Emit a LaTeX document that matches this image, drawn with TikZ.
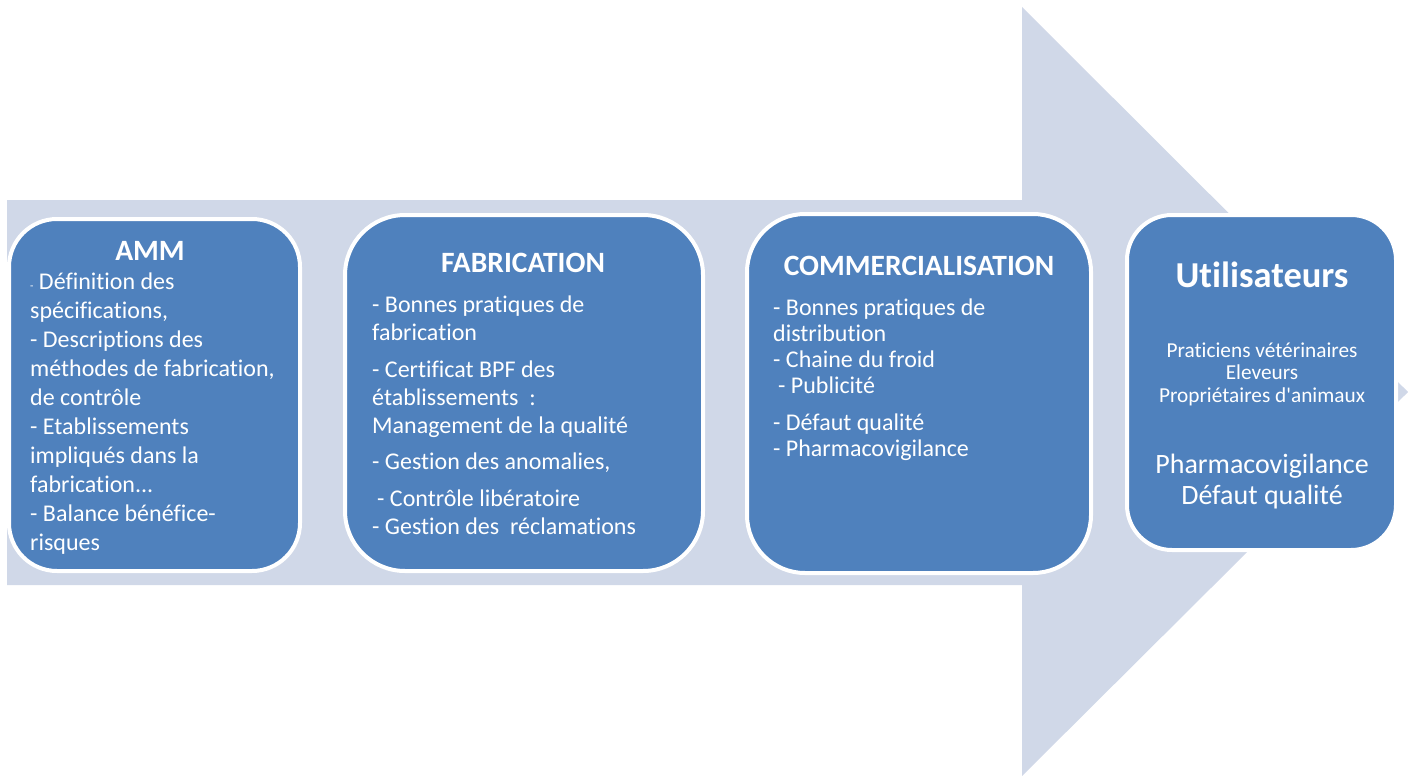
\documentclass[tikz,border=0pt]{standalone}
\usepackage{fontspec}
\setmainfont[Ligatures=NoCommon]{Carlito}
\newfontfamily\plainq{Carlito}
\definecolor{shaftcol}{RGB}{208,216,232}
\definecolor{boxcol}{RGB}{79,129,189}
\newcommand\leftlines[2]{\vtop{\baselineskip=#1\lineskiplimit=-100pt\lineskip=0pt\halign{##\hfil\cr #2\crcr}}}
\newcommand\centerlines[2]{\vtop{\baselineskip=#1\lineskiplimit=-100pt\lineskip=0pt\halign{\hfil##\hfil\cr #2\crcr}}}
\newcommand\gap[1]{\noalign{\vskip #1}}
\begin{document}
\begin{tikzpicture}[x=1pt,y=-1pt,
  stagebox/.style={draw=white, line width=4pt, fill=boxcol, inner sep=0pt},
  titletext/.style={anchor=base, text=white, inner sep=0pt, font=\bfseries\fontsize{29.5}{35}\selectfont},
  bodytext/.style={anchor=base west, text=white, inner sep=0pt, font=\fontsize{24}{29}\selectfont},
  midtext/.style={anchor=base, text=white, inner sep=0pt}]
\useasboundingbox (0,0) rectangle (1408,776);
% big arrow
\fill[shaftcol] (7,200) -- (1022,200) -- (1022,7) -- (1408,392) -- (1022,776) -- (1022,585) -- (7,585) -- cycle;
% boxes
\node[stagebox, rounded corners=48pt, minimum width=291pt, minimum height=352pt] (amm) at (154.5,395) {};
\node[stagebox, rounded corners=60pt, minimum width=358pt, minimum height=356pt] (fab) at (524,393) {};
\node[stagebox, rounded corners=58pt, minimum width=344pt, minimum height=359pt] (com) at (919,393.5) {};
\node[stagebox, rounded corners=45pt, minimum width=269pt, minimum height=335pt] (uti) at (1261.5,382.5) {};
% titles
\node[titletext] (ammt) at (150,260) {AMM};
\node[titletext] (fabt) at (523,272) {FABRICATION};
\node[titletext] (comt) at (919,275) {COMMERCIALISATION};
\node[titletext, font=\bfseries\fontsize{36.5}{43}\selectfont] (utit) at (1262,287) {Utilisateurs};
% bodies
\node[bodytext] (ammb) at (30,289) {\leftlines{29.1pt}{{\fontsize{11}{13}\selectfont -} Définition des\cr
spécifications,\cr
- Descriptions des\cr
méthodes de fabrication,\cr
de contrôle\cr
- Etablissements\cr
impliqués dans la\cr
fabrication...\cr
- Balance bénéfice-\cr
risques}};
\node[bodytext] (fabb) at (372,312) {\leftlines{28pt}{- Bonnes pratiques de\cr
fabrication\cr\gap{9pt}
- Certificat BPF des\cr
établissements~~:\cr
Management de la qualité\cr\gap{8pt}
- Gestion des anomalies,\cr\gap{9pt}
\hspace{5pt}- Contrôle libératoire\cr
- Gestion des~~réclamations}};
\node[bodytext] (comb) at (773,315) {\leftlines{26pt}{- Bonnes pratiques de\cr
distribution\cr
- Chaine du froid\cr
\hspace{5pt}- Publicité\cr\gap{11pt}
- Défaut qualité\cr
- Pharmacovigilance}};
\node[midtext, font=\fontsize{21.3}{22.5}\selectfont] (utib) at (1262,357) {\centerlines{22.5pt}{Praticiens vétérinaires\cr
Eleveurs\cr
Propriétaires d{\plainq'}animaux}};
\node[midtext, font=\fontsize{28}{31}\selectfont] (utic) at (1262,473) {\centerlines{31pt}{Pharmacovigilance\cr
Défaut qualité}};
\end{tikzpicture}
\end{document}
